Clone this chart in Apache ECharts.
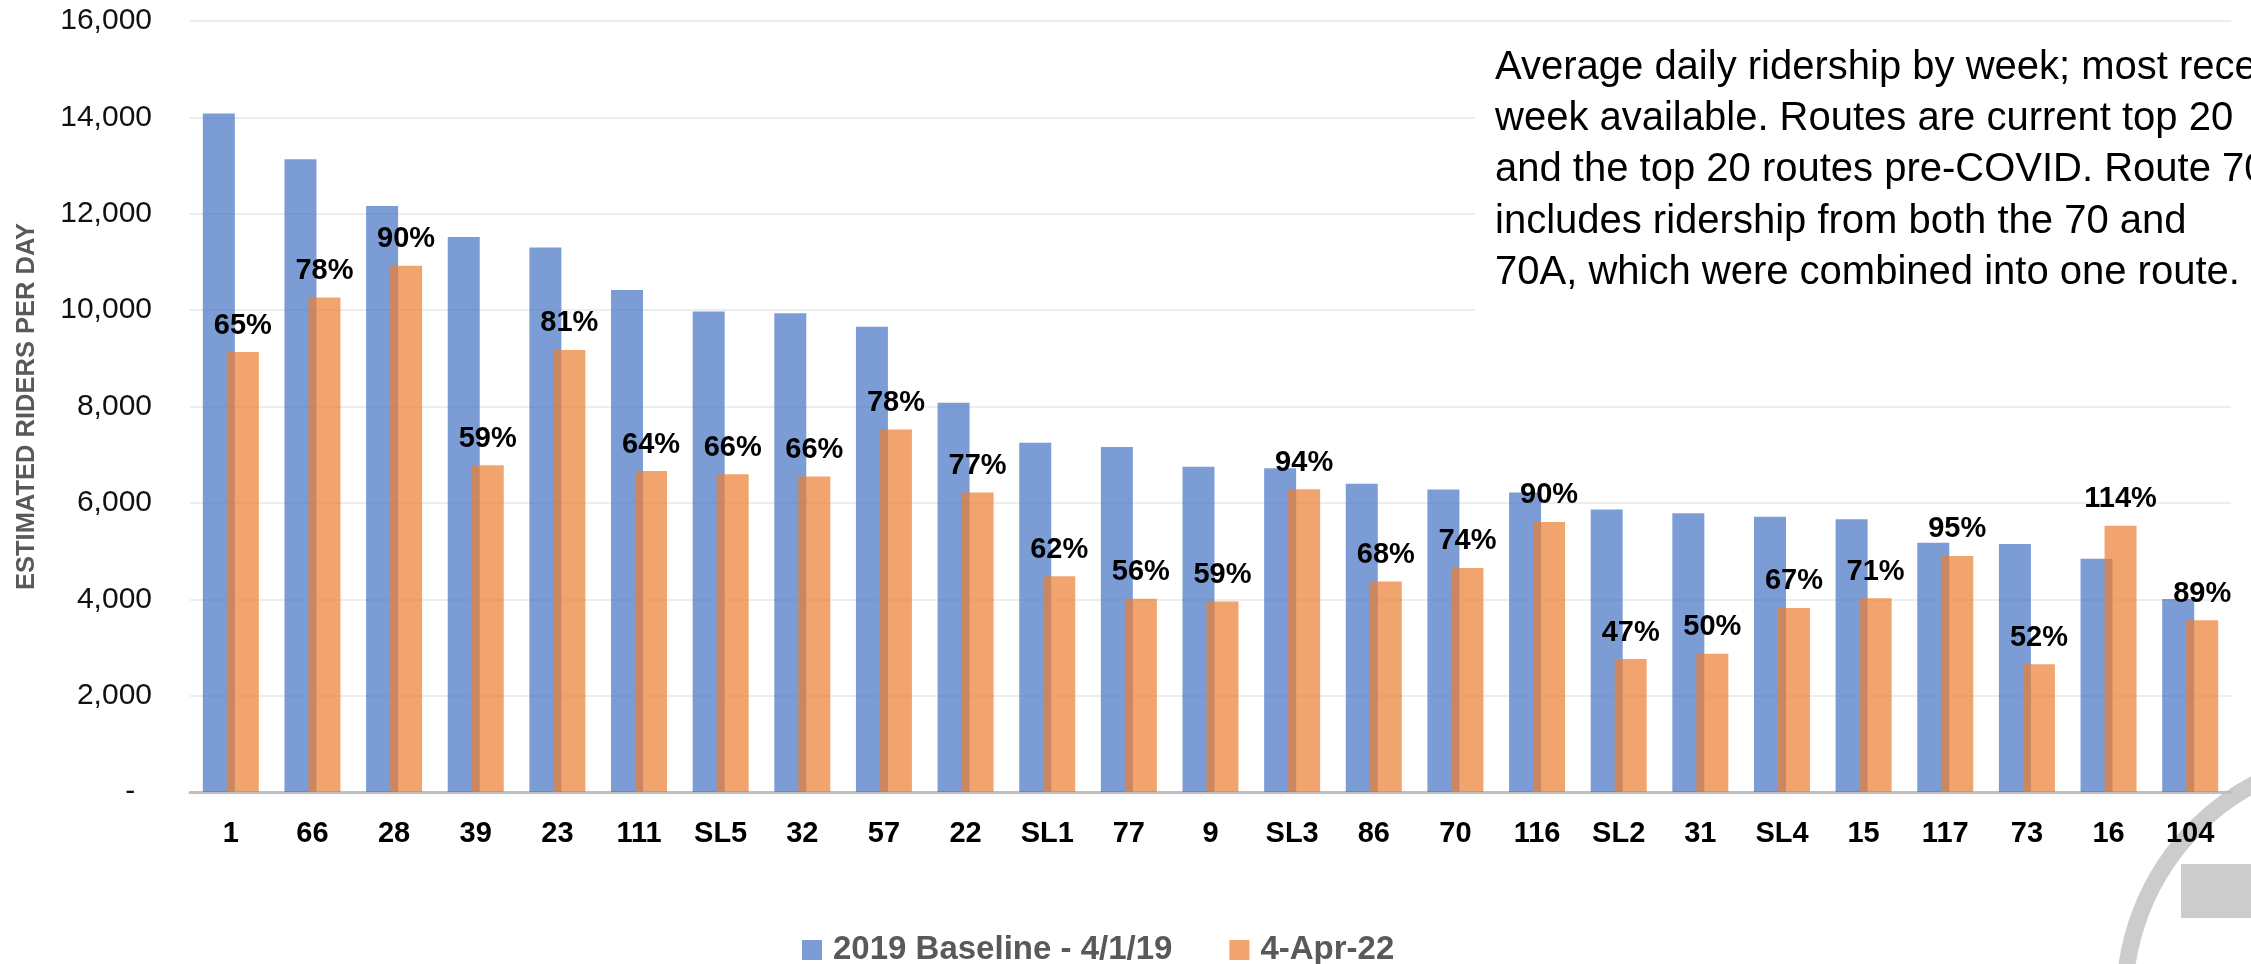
<!DOCTYPE html>
<html><head><meta charset="utf-8">
<script src="https://cdn.jsdelivr.net/npm/echarts@6/dist/echarts.min.js"></script>
<style>html,body{margin:0;padding:0;background:#fff}#c{width:2251px;height:964px}</style>
</head><body><div id="c"></div>
<script>
const routes = ['1','66','28','39','23','111','SL5','32','57','22','SL1','77','9','SL3','86','70','116','SL2','31','SL4','15','117','73','16','104'];
const baseline2019 = [14080,13130,12160,11520,11300,10420,9970,9935,9655,8080,7250,7160,6750,6720,6395,6275,6215,5865,5785,5710,5660,5170,5145,4840,4005];
const apr2022 = [9130,10260,10920,6780,9175,6660,6595,6545,7525,6215,4475,4010,3955,6285,4370,4650,5605,2760,2870,3820,4020,4900,2650,5525,3565];
const pctLabels = ['65%','78%','90%','59%','81%','64%','66%','66%','78%','77%','62%','56%','59%','94%','68%','74%','90%','47%','50%','67%','71%','95%','52%','114%','89%'];
const yMax = 16000;
const yStep = 2000;
const noteLines = [
  'Average daily ridership by week; most recent',
  'week available. Routes are current top 20',
  'and the top 20 routes pre-COVID. Route 70',
  'includes ridership from both the 70 and',
  '70A, which were combined into one route.'
];
const seriesNames = ['2019 Baseline - 4/1/19', '4-Apr-22'];

const FONT = '"Liberation Sans", Arial, sans-serif';
const chart = echarts.init(document.getElementById('c'), null, {renderer: 'canvas'});
chart.setOption({
  animation: false,
  backgroundColor: '#ffffff',
  grid: {left: 190, right: 20, top: 21, bottom: 172, containLabel: false},
  legend: {
    data: seriesNames,
    left: 802, top: 933, padding: 0,
    icon: 'rect', itemWidth: 20, itemHeight: 20, itemGap: 57,
    textStyle: {fontFamily: FONT, fontSize: 33, fontWeight: 'bold', color: '#595959', padding: [0,0,0,6], lineHeight: 34}
  },
  xAxis: {
    type: 'category', data: routes,
    axisTick: {show: false},
    axisLine: {lineStyle: {color: '#bfbfbf', width: 3}},
    axisLabel: {interval: 0, margin: 27, fontFamily: FONT, fontSize: 29, fontWeight: 'bold', color: '#000'}
  },
  yAxis: {
    type: 'value', min: 0, max: yMax, interval: yStep,
    name: 'ESTIMATED RIDERS PER DAY', nameLocation: 'middle', nameRotate: 90, nameGap: 150,
    nameTextStyle: {fontFamily: FONT, fontSize: 25.5, fontWeight: 'bold', color: '#595959'},
    axisLine: {show: false}, axisTick: {show: false},
    splitLine: {lineStyle: {color: '#ededed', width: 2}},
    axisLabel: {margin: 38, fontFamily: FONT, fontSize: 30, color: '#111',
      formatter: v => v === 0 ? '-  ' : v.toLocaleString('en-US')}
  },
  series: [
    {name: seriesNames[0], type: 'bar', data: baseline2019, barWidth: 32, barGap: '-25%',
     itemStyle: {color: 'rgba(68,114,196,0.7)'}},
    {name: seriesNames[1], type: 'bar', data: apr2022, barWidth: 32, barGap: '-25%',
     itemStyle: {color: 'rgba(237,125,49,0.7)'},
     label: {show: true, position: 'top', distance: 12, formatter: p => pctLabels[p.dataIndex],
       fontFamily: FONT, fontSize: 29, fontWeight: 'bold', color: '#000'}}
  ],
  graphic: [
    {type: 'circle', z: -10, shape: {cx: 2369, cy: 1000, r: 244.5}, style: {fill: 'none', stroke: '#cccccc', lineWidth: 17}},
    {type: 'rect', z: -10, shape: {x: 2181, y: 864, width: 70, height: 54}, style: {fill: '#cccccc'}},
    {type: 'rect', z: 100, shape: {x: 1475, y: 38, width: 776, height: 352}, style: {fill: '#ffffff'}},
    {type: 'text', z: 101, x: 1495, y: 42, style: {text: noteLines.join('\n'), fontFamily: FONT, fontSize: 40, lineHeight: 51.3, fill: '#000'}}
  ]
});
</script></body></html>
